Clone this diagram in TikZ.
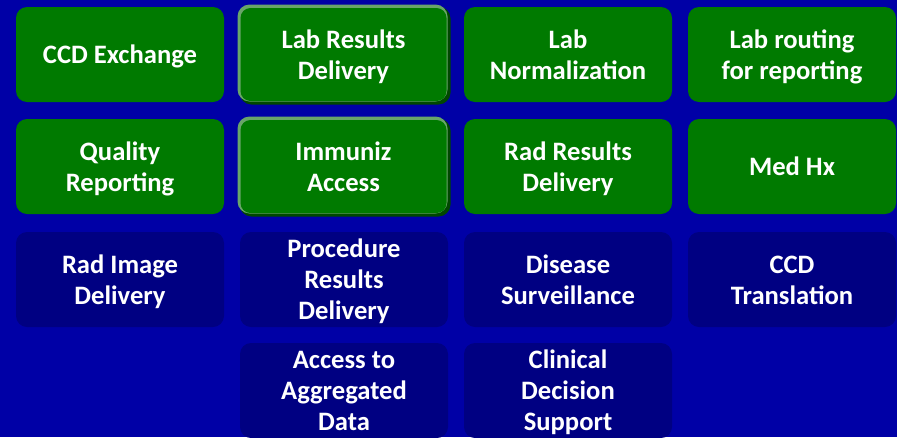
\documentclass[tikz,border=0pt]{standalone}
\usepackage{fontspec}
\setmainfont{Carlito}
\definecolor{bgblue}{RGB}{0,0,166}
\definecolor{boxgreen}{RGB}{0,122,0}
\definecolor{shadowgreen}{RGB}{0,72,0}
\definecolor{edgegreen}{RGB}{105,165,105}
\definecolor{navy}{RGB}{0,0,130}
\newcommand\tiletxt[1]{\raisebox{-3pt}[\height][\depth]{\begin{tabular}{@{}c@{}}#1\end{tabular}}}
\tikzset{
  tile/.style={rounded corners=11pt, minimum width=208pt, minimum height=95pt,
    inner sep=0pt, text=white,
    font=\fontsize{26.6}{31}\selectfont\bfseries},
  greentile/.style={tile, fill=boxgreen},
  navytile/.style={tile, fill=navy},
  beveltile/.style={tile, fill=boxgreen, minimum width=206pt, minimum height=93pt, rounded corners=10pt},
  bevelshadow/.style={fill=shadowgreen, rounded corners=12pt},
  bevellight/.style={fill=edgegreen, rounded corners=12pt}
}
\begin{document}
\begin{tikzpicture}[x=1pt,y=-1pt]
\useasboundingbox (0,0) rectangle (897,437);
\clip (0,0) rectangle (897,437);
\fill[bgblue] (0,0) rectangle (897,437);
% bevel layers for the two raised tiles
\fill[bevelshadow] (239.5,6.5) rectangle (450.5,104.5);
\fill[bevellight] (237.5,4.5) rectangle (447.5,101.5);
\fill[bevelshadow] (239.5,118.5) rectangle (450.5,216.5);
\fill[bevellight] (237.5,116.5) rectangle (447.5,213.5);
% row 1
\node[greentile] (ccd) at (120,54.5) {\tiletxt{CCD Exchange}};
\node[beveltile] (labres) at (343.5,54.5) {\tiletxt{Lab Results\\Delivery}};
\node[greentile] (labnorm) at (568,54.5) {\tiletxt{Lab\\Normalization}};
\node[greentile] (labrout) at (792,54.5) {\tiletxt{Lab routing\\for reporting}};
% row 2
\node[greentile] (qual) at (120,166.5) {\tiletxt{Quality\\Reporting}};
\node[beveltile] (immun) at (343.5,166.5) {\tiletxt{Immuniz\\Access}};
\node[greentile] (radres) at (568,166.5) {\tiletxt{Rad Results\\Delivery}};
\node[greentile] (medhx) at (792,166.5) {\tiletxt{Med Hx}};
% row 3
\node[navytile] (radimg) at (120,279.5) {\tiletxt{Rad Image\\Delivery}};
\node[navytile] (proc) at (344,279.5) {\tiletxt{Procedure\\Results\\Delivery}};
\node[navytile] (dis) at (568,279.5) {\tiletxt{Disease\\Surveillance}};
\node[navytile] (ccdtr) at (792,279.5) {\tiletxt{CCD\\Translation}};
% row 4
\node[navytile] (agg) at (344,390.5) {\tiletxt{Access to\\Aggregated\\Data}};
\node[navytile] (cds) at (568,390.5) {\tiletxt{Clinical\\Decision\\Support}};
\end{tikzpicture}
\end{document}
